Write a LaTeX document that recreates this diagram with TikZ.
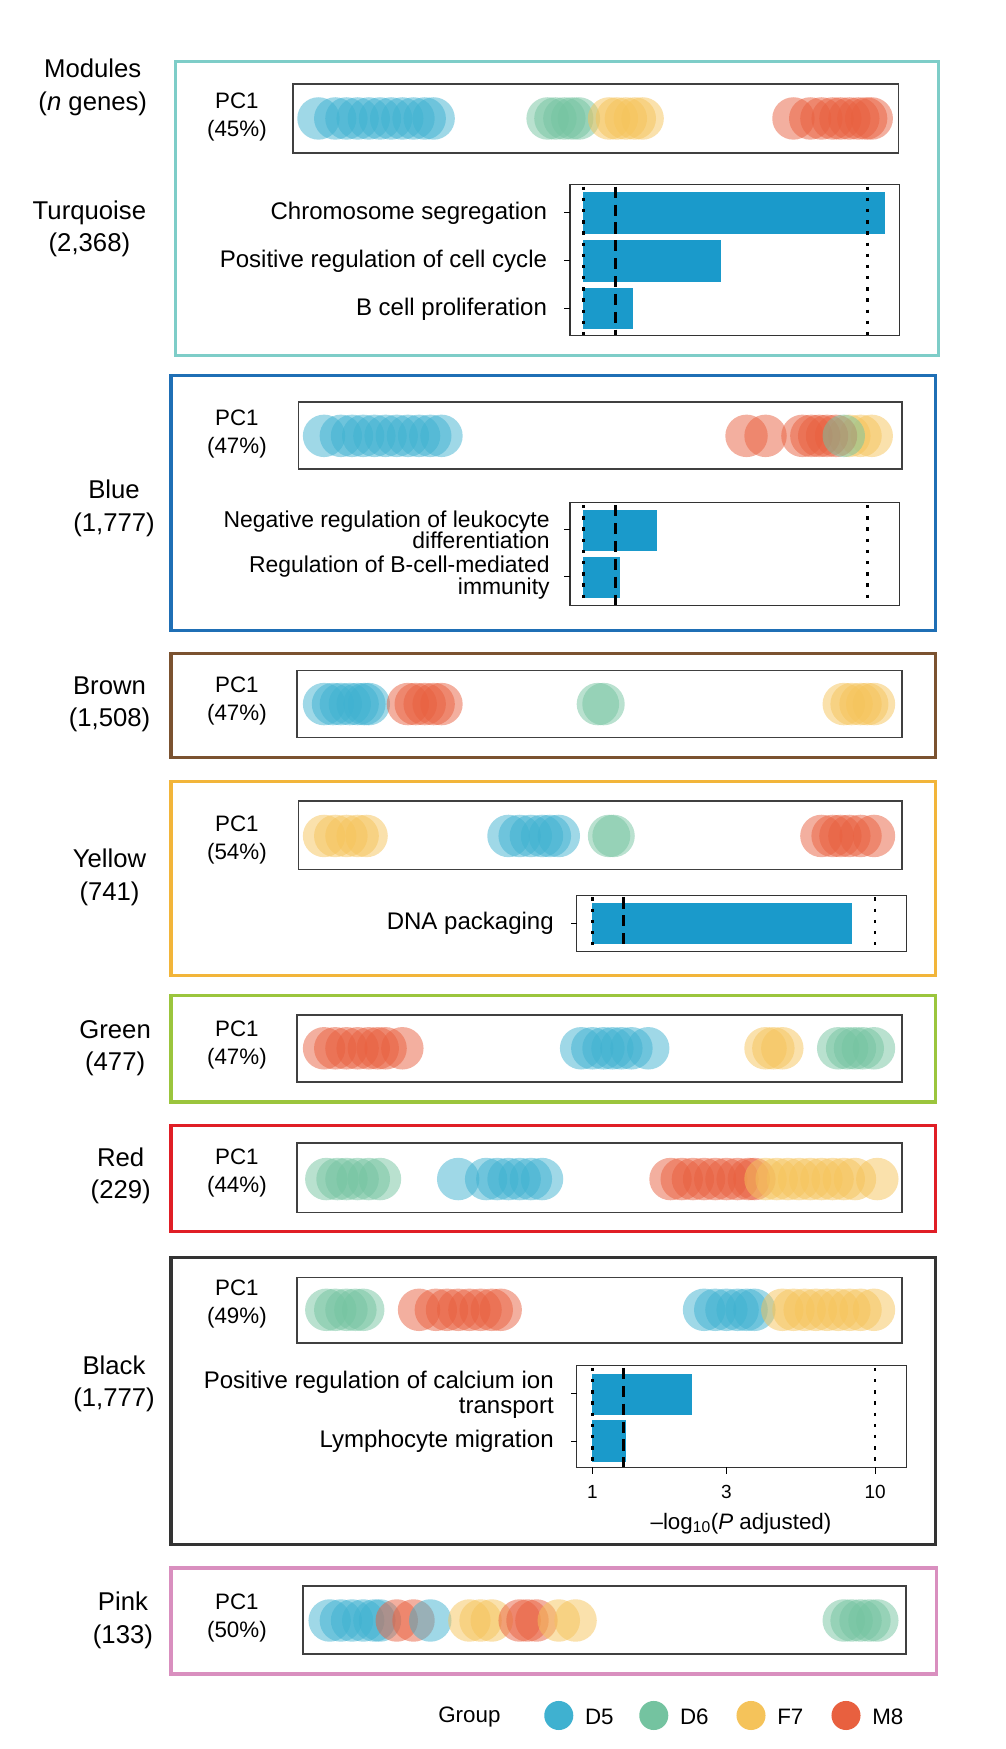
\documentclass[tikz,border=0pt]{standalone}
\usepackage{fontspec}
\setmainfont{Liberation Sans}
\begin{document}
\definecolor{cD5}{HTML}{3FB1D0}
\definecolor{cD6}{HTML}{74C3A0}
\definecolor{cF7}{HTML}{F5C35A}
\definecolor{cM8}{HTML}{E8603F}
\definecolor{bar}{HTML}{1A9ACB}
\begin{tikzpicture}[x=1pt,y=-1pt,
 lab/.style={font=\fontsize{23}{29}\selectfont,align=center},
 pc/.style={font=\fontsize{20}{25}\selectfont,align=center},
 term/.style={font=\fontsize{21.5}{22}\selectfont,align=right,anchor=east},
 mod/.style={line width=3pt},
 strip/.style={draw=black!75,line width=1.6pt},
 cbox/.style={draw=black!80,line width=1pt},
 dotln/.style={line width=2.5pt,dash pattern=on 3pt off 7pt},
 dashln/.style={line width=2.5pt,dash pattern=on 10pt off 6pt}]
\useasboundingbox (0,0) rectangle (900,1565);
\newcommand\dts[3]{\foreach \xx in {#3}{\fill[#1,fill opacity=0.5] (\xx,#2) circle (19);}}
% Turquoise
\node[lab] (mt) at (83,78) {Modules\\(\textit{n} genes)};
\draw[mod,color={rgb,255:red,126;green,205;blue,200}] (157,55) rectangle (840,318);
\node[lab] (lt) at (80,205) {Turquoise\\(2,368)};
\node[pc] (pt) at (212,105) {PC1\\(45\%)};
\dts{cD5}{106}{285,300,310,320,330,340,350,360,370,380,388}
\dts{cD6}{106}{490,497,505,512,518}
\dts{cF7}{106}{545,552,560,568,575}
\dts{cM8}{106}{710,725,735,745,752,760,768,775,780}
\draw[strip] (262,75) rectangle (804,137);
\fill[bar] (522,172) rectangle (792,209);
\fill[bar] (522,215) rectangle (645,252);
\fill[bar] (522,258) rectangle (566,294);
\draw[dotln] (522,167)--(522,300); \draw[dotln] (776,167)--(776,300); \draw[dashln] (551,167)--(551,300);
\draw[cbox] (510,165) rectangle (805,300);
\foreach \yy in {190,233,276}{\draw[line width=1pt] (505,\yy)--(510,\yy);}
\node[term] at (493,191) {Chromosome segregation};
\node[term] at (493,234) {Positive regulation of cell cycle};
\node[term] at (493,277) {B cell proliferation};
% Blue
\draw[mod,color={rgb,255:red,31;green,111;blue,181}] (153,336) rectangle (837,564);
\node[lab] at (102,455) {Blue\\(1,777)};
\node[pc] at (212,388) {PC1\\(47\%)};
\dts{cD5}{390}{290,305,315,325,335,345,355,365,375,385,395}
\dts{cM8}{390}{668,685}
\dts{cF7}{390}{760,770,780}
\dts{cM8}{390}{718,726,733,740,748}
\dts{cD6}{390}{755}
\draw[strip] (267,360) rectangle (807,420);
\fill[bar] (522,456) rectangle (588,493);
\fill[bar] (522,498) rectangle (555,535);
\draw[dotln] (522,452)--(522,542); \draw[dotln] (776,452)--(776,542); \draw[dashln] (551,452)--(551,542);
\draw[cbox] (510,450) rectangle (805,542);
\foreach \yy in {474,516}{\draw[line width=1pt] (505,\yy)--(510,\yy);}
\node[term,font=\fontsize{20.5}{19.5}\selectfont,inner sep=1pt] at (493,474) {Negative regulation of leukocyte\\differentiation};
\node[term,font=\fontsize{20.5}{19.5}\selectfont,inner sep=1pt] at (493,517) {Regulation of B-cell-mediated\\immunity};
% Brown
\draw[mod,color={rgb,255:red,123;green,82;blue,48}] (153,585) rectangle (837,678);
\node[lab] at (98,630) {Brown\\(1,508)};
\node[pc] at (212,627) {PC1\\(47\%)};
\dts{cD5}{630}{290,298,305,313,320,326,330}
\dts{cM8}{630}{365,372,380,388,395}
\dts{cD6}{630}{535,540}
\dts{cF7}{630}{755,762,770,776,782}
\draw[strip] (266,600) rectangle (807,660);
% Yellow
\draw[mod,color={rgb,255:red,242;green,181;blue,58}] (153,699) rectangle (837,873);
\node[lab] at (98,785) {Yellow\\(741)};
\node[pc] at (212,752) {PC1\\(54\%)};
\dts{cF7}{748}{290,300,310,320,328}
\dts{cD5}{748}{455,465,475,485,492,500}
\dts{cD6}{748}{545,549}
\dts{cM8}{748}{735,745,752,760,770,782}
\draw[strip] (267,717) rectangle (807,778);
\fill[bar] (530,808) rectangle (762,845);
\draw[dotln] (530,803)--(530,851); \draw[dotln] (783,803)--(783,851); \draw[dashln] (558,803)--(558,851);
\draw[cbox] (516,801) rectangle (811,851);
\draw[line width=1pt] (511,826)--(516,826);
\node[term] at (499,826) {DNA packaging};
% Green
\draw[mod,color={rgb,255:red,155;green,197;blue,61}] (153,891) rectangle (837,986);
\node[lab] at (103,938) {Green\\(477)};
\node[pc] at (212,935) {PC1\\(47\%)};
\dts{cM8}{938}{290,300,310,320,330,338,345,360}
\dts{cD5}{938}{520,530,540,548,556,565,580}
\dts{cF7}{938}{685,692,700}
\dts{cD6}{938}{750,758,765,772,782}
\draw[strip] (266,908) rectangle (807,968);
% Red
\draw[mod,color={rgb,255:red,224;green,30;blue,38}] (153,1007) rectangle (837,1102);
\node[lab] at (108,1052) {Red\\(229)};
\node[pc] at (212,1050) {PC1\\(44\%)};
\dts{cD6}{1055}{292,302,310,320,330,340}
\dts{cD5}{1055}{410,435,445,455,465,475,485}
\dts{cM8}{1055}{600,610,620,630,640,650,660,670,675}
\dts{cF7}{1055}{685,695,705,715,725,735,745,755,765,785}
\draw[strip] (266,1023) rectangle (807,1085);
% Black
\draw[mod,color=black!80] (153,1125) rectangle (837,1382);
\node[lab] at (102,1238) {Black\\(1,777)};
\node[pc] at (212,1167) {PC1\\(49\%)};
\dts{cD6}{1172}{292,300,310,318,325}
\dts{cM8}{1172}{375,390,400,410,420,430,440,448}
\dts{cD5}{1172}{630,640,650,660,668,675}
\dts{cF7}{1172}{700,710,720,730,740,750,760,770,782}
\draw[strip] (266,1143) rectangle (807,1202);
\fill[bar] (530,1229) rectangle (619,1266);
\fill[bar] (530,1271) rectangle (560,1308);
\draw[dotln] (530,1224)--(530,1313); \draw[dotln] (783,1224)--(783,1313); \draw[dashln] (558,1224)--(558,1313);
\draw[cbox] (516,1222) rectangle (811,1313);
\foreach \yy in {1247,1290}{\draw[line width=1pt] (511,\yy)--(516,\yy);}
\foreach \xx/\tt in {530/1,650/3,783/10}{\draw[line width=1pt] (\xx,1313)--(\xx,1319); \node[font=\fontsize{17}{17}\selectfont] at (\xx,1335) {\tt};}
\node[term] at (499,1248) {Positive regulation of calcium ion\\transport};
\node[term] at (499,1290) {Lymphocyte migration};
\node[font=\fontsize{20}{20}\selectfont] (ax) at (663,1363) {\textendash log\textsubscript{10}(\textit{P} adjusted)};
% Pink
\draw[mod,color={rgb,255:red,217;green,143;blue,191}] (153,1403) rectangle (838,1498);
\node[lab] at (110,1450) {Pink\\(133)};
\node[pc] at (212,1448) {PC1\\(50\%)};
\dts{cD5}{1450}{295,305,315,325,335,340}
\dts{cM8}{1450}{355,370}
\dts{cD5}{1450}{385}
\dts{cF7}{1450}{420,430,440}
\dts{cM8}{1450}{465,472,480}
\dts{cF7}{1450}{500,515}
\dts{cD6}{1450}{755,762,770,778,785}
\draw[strip] (271,1419) rectangle (811,1480);
% Legend
\node[font=\fontsize{20}{20}\selectfont] (g) at (420,1536) {Group};
\foreach \xx/\cc/\tt in {500/cD5/D5,585/cD6/D6,672/cF7/F7,757/cM8/M8}{
 \fill[\cc] (\xx,1535) circle (13);
 \node[font=\fontsize{20}{20}\selectfont,anchor=west] at (\xx+20,1536) {\tt};}
\end{tikzpicture}
\end{document}
